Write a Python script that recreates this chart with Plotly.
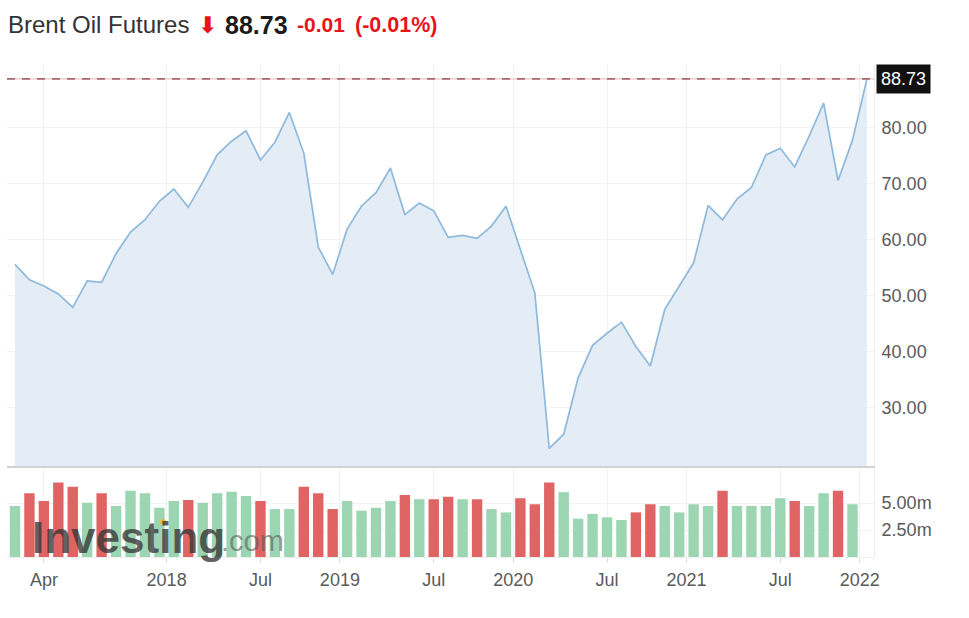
import plotly.graph_objects as go
import pandas as pd

# ---------------- data ----------------
months = pd.date_range("2017-02-01", periods=60, freq="MS")
closes = [
    55.59, 52.83, 51.73, 50.31, 47.92, 52.65, 52.38, 57.54, 61.37, 63.57, 66.87,
    69.05, 65.78, 70.27, 75.17, 77.59, 79.44, 74.25, 77.42, 82.72, 75.47, 58.71, 53.80,
    61.89, 66.03, 68.39, 72.80, 64.49, 66.55, 65.17, 60.43, 60.78, 60.23, 62.43, 66.00,
    58.16, 50.52, 22.74, 25.27, 35.33, 41.15, 43.30, 45.28, 40.95, 37.46, 47.59, 51.80,
    55.88, 66.13, 63.54, 67.25, 69.32, 75.13, 76.33, 72.99, 78.52, 84.38, 70.57, 77.78,
    88.73,
]
volumes_m = [
    4.72, 5.90, 5.18, 6.90, 6.50, 5.03, 5.90, 4.72, 6.14, 5.90, 4.57,
    5.18, 5.28, 5.03, 5.90, 6.05, 5.65, 5.18, 4.44, 4.44, 6.50, 5.90, 4.44,
    5.18, 4.29, 4.57, 5.18, 5.74, 5.34, 5.34, 5.58, 5.34, 5.34, 4.44, 4.13,
    5.43, 4.88, 6.90, 5.99, 3.55, 3.98, 3.67, 3.43, 4.13, 4.88, 4.72, 4.13,
    4.88, 4.72, 6.14, 4.72, 4.72, 4.72, 5.43, 5.18, 4.72, 5.90, 6.14, 4.88,
    None,
]
tick_months = ["2017-04", "2018-01", "2018-07", "2019-01", "2019-07",
               "2020-01", "2020-07", "2021-01", "2021-07", "2022-01"]
tick_labels = ["Apr", "2018", "Jul", "2019", "Jul", "2020", "Jul", "2021", "Jul", "2022"]
price_ticks = [30, 40, 50, 60, 70, 80]
volume_ticks = [2.5, 5.0]
title_name = "Brent Oil Futures"
change_abs = "-0.01"
change_pct = "(-0.01%)"

# ---------------- derived ----------------
idx = list(range(len(closes)))
month_keys = [m.strftime("%Y-%m") for m in months]
tick_pos = []
for tm in tick_months:
    i = month_keys.index(tm)
    tick_pos.append(i - 0.5 if tm.endswith("-01") else i)

GREEN = "#9bd5b1"
RED = "#e06464"
bar_colors = []
for i, c in enumerate(closes):
    if i == 0 or c >= closes[i - 1]:
        bar_colors.append(GREEN)
    else:
        bar_colors.append(RED)

FONT = "Liberation Sans, Arial, sans-serif"
TICKC = "#5a5a5a"
TS = 18

fig = go.Figure()
fig.add_trace(go.Scatter(
    x=idx, y=closes, mode="lines", xaxis="x", yaxis="y",
    line=dict(color="#8dbadc", width=1.7),
    fill="tozeroy", fillcolor="#e4ecf5", hoverinfo="skip",
))
fig.add_trace(go.Bar(
    x=idx, y=volumes_m, xaxis="x2", yaxis="y2",
    marker=dict(color=bar_colors, line=dict(width=0)), width=0.72,
    hoverinfo="skip",
))

xr = [-0.554, 59.49]
last = closes[-1]

fig.update_layout(
    width=969, height=618,
    margin=dict(l=7, r=95, t=65, b=61),
    paper_bgcolor="white", plot_bgcolor="white",
    showlegend=False,
    font=dict(family=FONT, size=TS, color=TICKC),
    xaxis=dict(
        domain=[0, 1], anchor="y", range=xr,
        tickvals=tick_pos, showticklabels=False, ticks="",
        showgrid=True, gridcolor="#f1f1f1", gridwidth=1,
        showline=True, linecolor="#cfd3d6", linewidth=1.5,
        zeroline=False,
    ),
    yaxis=dict(
        domain=[0.185, 1], anchor="x", range=[19.6, 91.2], side="right",
        tickvals=price_ticks, tickformat=".2f",
        showgrid=True, gridcolor="#f3f3f3", gridwidth=1,
        showline=True, linecolor="#ececec", linewidth=1, mirror=False,
        ticks="", ticklabelstandoff=3, zeroline=False,
        tickfont=dict(size=TS, color=TICKC, family=FONT),
    ),
    xaxis2=dict(
        domain=[0, 1], anchor="y2", range=xr,
        tickvals=tick_pos, ticktext=tick_labels,
        ticks="outside", ticklen=5, tickcolor="#dddddd",
        showgrid=True, gridcolor="#f1f1f1", gridwidth=1,
        showline=True, linecolor="#eeeeee", linewidth=1,
        zeroline=False, ticklabelstandoff=1,
        tickfont=dict(size=TS, color=TICKC, family=FONT),
    ),
    yaxis2=dict(
        domain=[0, 0.18], anchor="x2", range=[0, 8.2], side="right",
        tickvals=volume_ticks, ticktext=[f"{v:.2f}m" for v in volume_ticks],
        showgrid=True, gridcolor="#f3f3f3", gridwidth=1,
        showline=True, linecolor="#ececec", linewidth=1,
        ticks="", ticklabelstandoff=3, zeroline=False,
        tickfont=dict(size=TS, color=TICKC, family=FONT),
    ),
    bargap=0.28,
)

# last price reference line (pink solid + darker dashes)
fig.add_shape(type="line", xref="paper", yref="y", x0=0, x1=1, y0=last, y1=last,
              line=dict(color="#f2c4c4", width=1.2), layer="above")
fig.add_shape(type="line", xref="paper", yref="y", x0=0, x1=1, y0=last, y1=last,
              line=dict(color="#a46a72", width=1.6, dash="8px,7px"), layer="above")

# last price label
fig.add_annotation(xref="paper", yref="y", x=1, y=last, xanchor="left", yanchor="middle",
                   xshift=2, text=f"{last:.2f}", showarrow=False,
                   font=dict(color="white", size=18, family=FONT),
                   bgcolor="#111111", borderpad=4)

# title row
ty = 1.082
fig.add_annotation(xref="paper", yref="paper", x=(6 - 7) / 867, y=ty, xanchor="left", yanchor="middle",
                   text=title_name, showarrow=False,
                   font=dict(size=24, color="#333333", family=FONT))
fig.add_annotation(xref="paper", yref="paper", x=(196 - 7) / 867, y=ty, xanchor="left", yanchor="middle",
                   text="<b>⬇</b>", showarrow=False,
                   font=dict(size=23, color="#e8141c", family="DejaVu Sans"))
fig.add_annotation(xref="paper", yref="paper", x=(223 - 7) / 867, y=ty, xanchor="left", yanchor="middle",
                   text=f"<b>{last:.2f}</b>", showarrow=False,
                   font=dict(size=25, color="#1a1a1a", family=FONT))
fig.add_annotation(xref="paper", yref="paper", x=(295 - 7) / 867, y=ty, xanchor="left", yanchor="middle",
                   text=f"<b>{change_abs}</b>", showarrow=False,
                   font=dict(size=21, color="#e8141c", family=FONT))
fig.add_annotation(xref="paper", yref="paper", x=(353 - 7) / 867, y=ty, xanchor="left", yanchor="middle",
                   text=f"<b>{change_pct}</b>", showarrow=False,
                   font=dict(size=21.5, color="#e8141c", family=FONT))

# watermark
fig.add_annotation(xref="paper", yref="paper", x=(30 - 7) / 867, y=(557 - 537) / 492,
                   xanchor="left", yanchor="middle",
                   text="<b>Investing</b>", showarrow=False,
                   font=dict(size=44, color="rgba(55,55,55,0.8)", family=FONT))
fig.add_annotation(xref="paper", yref="paper", x=(219 - 7) / 867, y=(557 - 541) / 492,
                   xanchor="left", yanchor="middle",
                   text=".com", showarrow=False,
                   font=dict(size=29, color="rgba(90,90,90,0.6)", family=FONT))
# yellow dot of the watermark logo
fig.add_shape(type="circle", xref="paper", yref="paper",
              x0=(160 - 7) / 867, x1=(166 - 7) / 867,
              y0=(557 - 525) / 492, y1=(557 - 519) / 492,
              fillcolor="rgba(240,185,40,0.9)", line=dict(width=0), layer="above")

fig.write_html(
    "out.html",
    config={"displayModeBar": False},
    post_script="document.body.style.margin='0';document.body.style.overflow='hidden';",
)
